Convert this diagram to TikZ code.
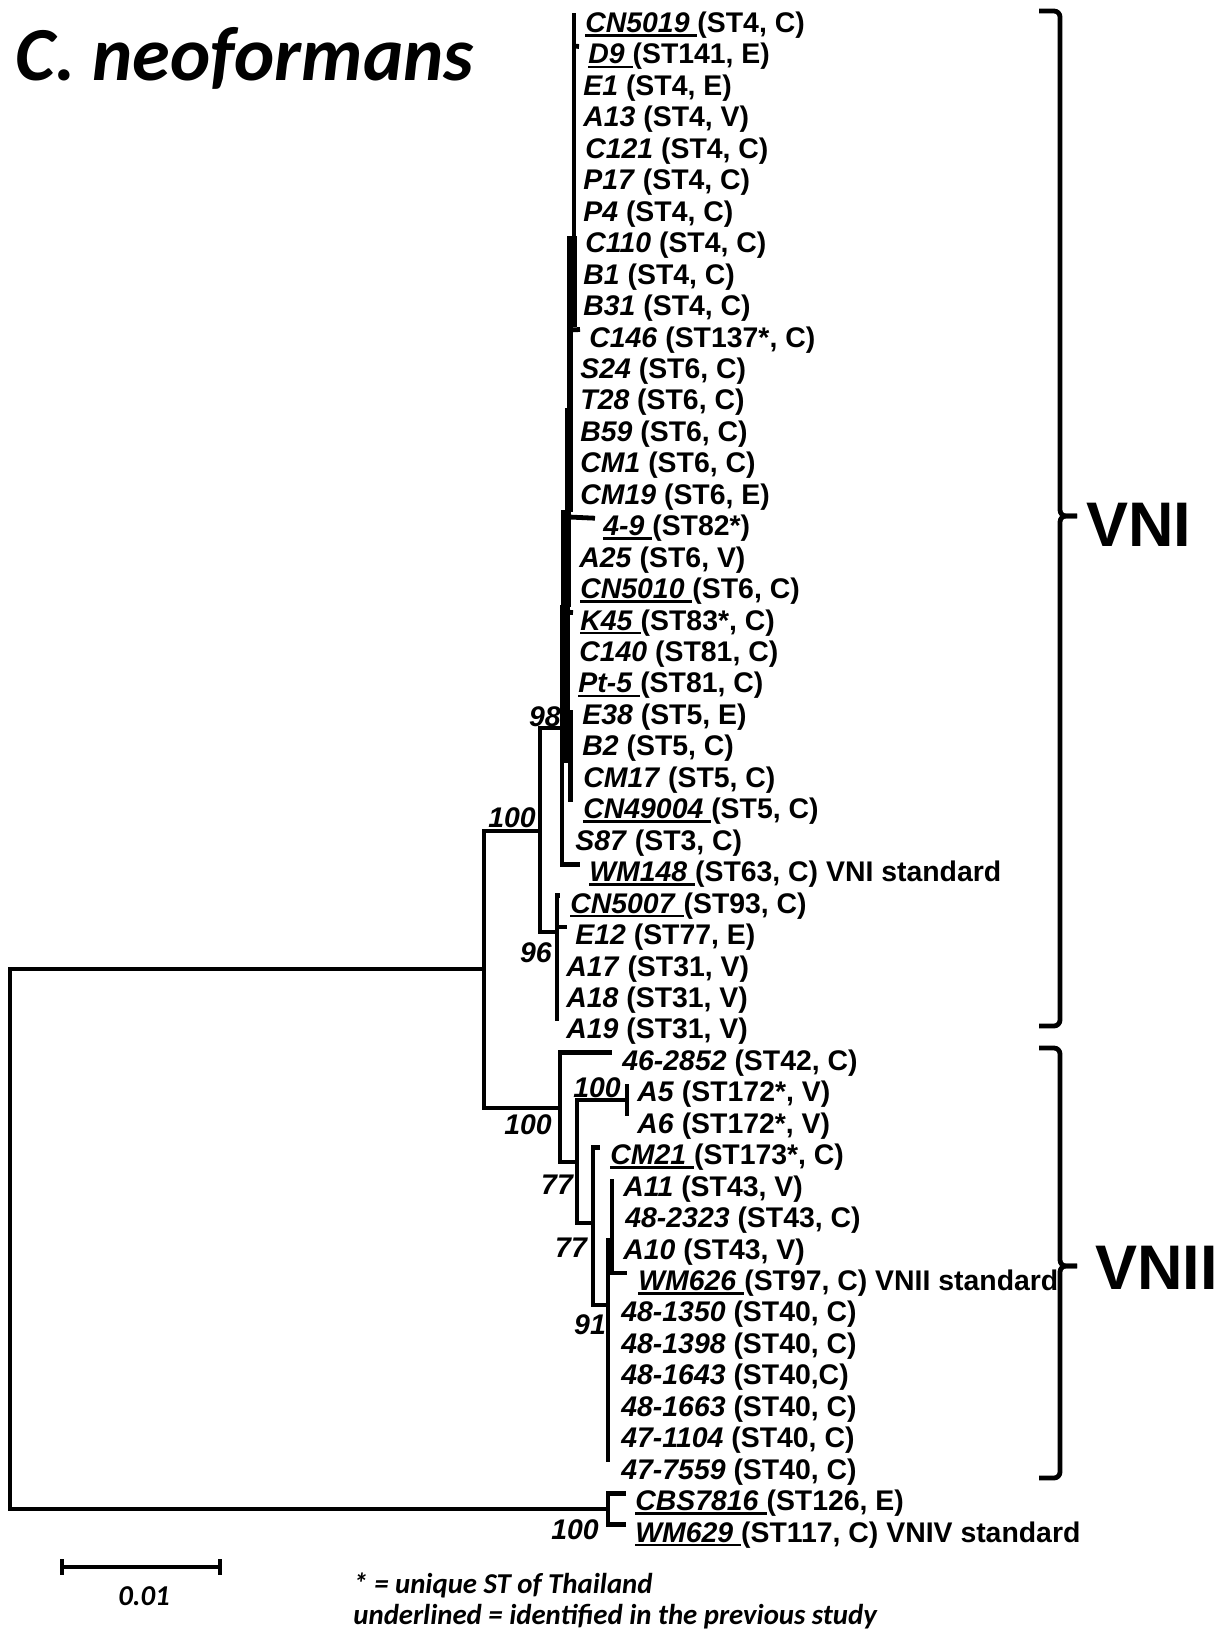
\documentclass[tikz,border=0pt]{standalone}
\usepackage{fontspec}
\setmainfont{Liberation Sans}
\newfontfamily\calfont{Carlito}
\usetikzlibrary{positioning}

\newcommand{\ulname}[1]{\setbox0=\hbox{#1}\rlap{\rule[-2pt]{\wd0}{1.2pt}}\box0}
\newcommand{\taxon}[3]{\ifnum#1=1 \ulname{\textit{#2}\ }\else\textit{#2}\ \fi#3}

\tikzset{
  br/.style={line width=2.4pt, line join=miter},
  tip/.style={anchor=base west, inner sep=0pt, font=\fontsize{14.2}{16}\selectfont\bfseries},
  boot/.style={inner sep=0pt, font=\fontsize{14.2}{16}\selectfont\bfseries\itshape},
  clade/.style={line width=2.4pt, rounded corners=3pt},
  cladelabel/.style={anchor=west, inner sep=0pt, font=\fontsize{31.5}{36}\selectfont\bfseries},
  note/.style={anchor=base west, inner sep=0pt, font=\calfont\fontsize{14.4}{18}\selectfont\bfseries\itshape},
}

\begin{document}
\begin{tikzpicture}[x=0.5pt,y=-0.5pt]
\path[fill=white,use as bounding box] (0,0) rectangle (1216,1629);

\node[anchor=base west, inner sep=0pt, font=\calfont\fontsize{38.2}{42}\selectfont\bfseries\itshape] (title) at (15,80) {C. neoformans};

% isolates, one per row
\foreach \row/\tx/\bx/\und/\nm/\info in {
 0/585/574/1/CN5019/{(ST4, C)},
 1/588/579/1/D9/{(ST141, E)},
 2/583/574/0/E1/{(ST4, E)},
 3/583/574/0/A13/{(ST4, V)},
 4/585/574/0/C121/{(ST4, C)},
 5/583/574/0/P17/{(ST4, C)},
 6/583/574/0/P4/{(ST4, C)},
 7/585/574/0/C110/{(ST4, C)},
 8/583/574/0/B1/{(ST4, C)},
 9/583/574/0/B31/{(ST4, C)},
 10/589/580/0/C146/{(ST137*, C)},
 11/580/570/0/S24/{(ST6, C)},
 12/580/570/0/T28/{(ST6, C)},
 13/580/570/0/B59/{(ST6, C)},
 14/580/570/0/CM1/{(ST6, C)},
 15/580/570/0/CM19/{(ST6, E)},
 16/603/595/1/4-9/{(ST82*)},
 17/579/570/0/A25/{(ST6, V)},
 18/580/570/1/CN5010/{(ST6, C)},
 19/580/573/1/K45/{(ST83*, C)},
 20/579/570/0/C140/{(ST81, C)},
 21/578/570/1/Pt-5/{(ST81, C)},
 22/582/572/0/E38/{(ST5, E)},
 23/582/572/0/B2/{(ST5, C)},
 24/583/572/0/CM17/{(ST5, C)},
 25/583/572/1/CN49004/{(ST5, C)},
 26/575/565/0/S87/{(ST3, C)},
 27/589/580/1/WM148/{(ST63, C) VNI standard},
 28/570/560/1/CN5007/{(ST93, C)},
 29/575/567/0/E12/{(ST77, E)},
 30/566/557/0/A17/{(ST31, V)},
 31/566/557/0/A18/{(ST31, V)},
 32/566/557/0/A19/{(ST31, V)},
 33/622/612/0/46-2852/{(ST42, C)},
 34/637/627/0/A5/{(ST172*, V)},
 35/637/627/0/A6/{(ST172*, V)},
 36/610/600/1/CM21/{(ST173*, C)},
 37/623/612/0/A11/{(ST43, V)},
 38/625/612/0/48-2323/{(ST43, C)},
 39/623/612/0/A10/{(ST43, V)},
 40/638/627/1/WM626/{(ST97, C) VNII standard},
 41/621/608/0/48-1350/{(ST40, C)},
 42/621/608/0/48-1398/{(ST40, C)},
 43/621/608/0/48-1643/{(ST40,C)},
 44/621/608/0/48-1663/{(ST40, C)},
 45/621/608/0/47-1104/{(ST40, C)},
 46/621/608/0/47-7559/{(ST40, C)},
 47/635/626/1/CBS7816/{(ST126, E)},
 48/635/626/1/WM629/{(ST117, C) VNIV standard}}{
  \node[tip] (t\row) at (\tx,32.5+31.45*\row) {\taxon{\und}{\nm}{\info}};
  \coordinate (b\row) at (\bx,15+31.45*\row);
}

% inner nodes
\coordinate (root) at (10,1239);
\coordinate (nI) at (484,969);
\coordinate (vni) at (540,831);
\coordinate (n98) at (562,728);
\coordinate (n96) at (557,932);
\coordinate (vnii) at (560,1108);
\coordinate (n77a) at (577,1162);
\coordinate (nA5) at (627,1100);
\coordinate (n77b) at (593,1223);
\coordinate (n91) at (608,1305);
\coordinate (nA11) at (612,1240);
\coordinate (vniv) at (608,1509);

\draw[br] (root) |- (nI);
\draw[br] (root) |- (vniv);
\draw[br] (nI) |- (vni);
\draw[br] (nI) |- (vnii);
\draw[br] (vni) |- (n98);
\draw[br] (vni) |- (n96);
\draw[br] (n98) |- (b27);
\draw[br] (n96) |- (b28);
\draw[br] (n96) |- (b29);
\draw[br] (n96) |- (b32);
\draw[br] (vnii) |- (b33);
\draw[br] (vnii) |- (n77a);
\draw[br] (n77a) |- (nA5);
\draw[br] (n77a) |- (n77b);
\draw[br] (nA5) |- (b34);
\draw[br] (nA5) |- (b35);
\draw[br] (n77b) |- (b36);
\draw[br] (n77b) |- (n91);
\draw[br] (n91) |- (nA11);
\draw[br] (n91) |- (b46);
\draw[br] (nA11) |- (b37);
\draw[br] (nA11) |- (b40);
\draw[br] (vniv) |- (b47);
\draw[br] (vniv) |- (b48);

% near-zero branches inside VNI
\draw[br, line width=2.2pt] (574,13) -- (574,240);
\draw[br, line width=4.8pt] (572,236) -- (572,327);
\draw[br, line width=2.8pt] (570,325) -- (570,410);
\draw[br, line width=3.8pt] (569,408) -- (569,512);
\draw[br, line width=4.8pt] (566,510) -- (566,607);
\draw[br, line width=5.2pt] (565,605) -- (565,763);
\draw[br, line width=2.2pt] (570.5,710) -- (570.5,802);
\draw[br] (574,46) -- (b1);
\draw[br] (570,330) -- (b10);
\draw[br] (569,517) -- (b16);
\draw[br] (565,612) -- (b19);

% bootstrap values
\node[boot] at (545,717) {98};
\node[boot] at (512,818) {100};
\node[boot] at (536,953) {96};
\node[boot] at (528,1125) {100};
\node[boot] at (597,1088) {100};
\node[boot] at (557,1185) {77};
\node[boot] at (571,1248) {77};
\node[boot] at (590,1325) {91};
\node[boot] at (575,1530) {100};

% clades
\coordinate (tipI) at (1077,516);
\coordinate (tipII) at (1077,1266);
\draw[clade] (1039,11) -- (1060,11) -- (1060,516) -- (tipI);
\draw[clade] (tipI) -- (1060,516) -- (1060,1026) -- (1039,1026);
\draw[clade] (1039,1048) -- (1060,1048) -- (1060,1266) -- (tipII);
\draw[clade] (tipII) -- (1060,1266) -- (1060,1478) -- (1039,1478);
\node[cladelabel, right=4.5pt of tipI, yshift=-4.5pt] (lblI) {VNI};
\node[cladelabel, right=9pt of tipII, yshift=-1pt] (lblII) {VNII};

% scale bar and notes
\coordinate (sa) at (62,1567);
\coordinate (sb) at (220,1567);
\draw[br] (sa) -- (sb);
\draw[br] (62,1559) -- (62,1575);
\draw[br] (220,1559) -- (220,1575);
\node[note, anchor=base] (scale) at (144,1605) {0.01};
\node[note] (star) at (353,1593) {* = unique ST of Thailand};
\node[note] (undl) at (353,1624) {underlined = identified in the previous study};
\end{tikzpicture}
\end{document}
